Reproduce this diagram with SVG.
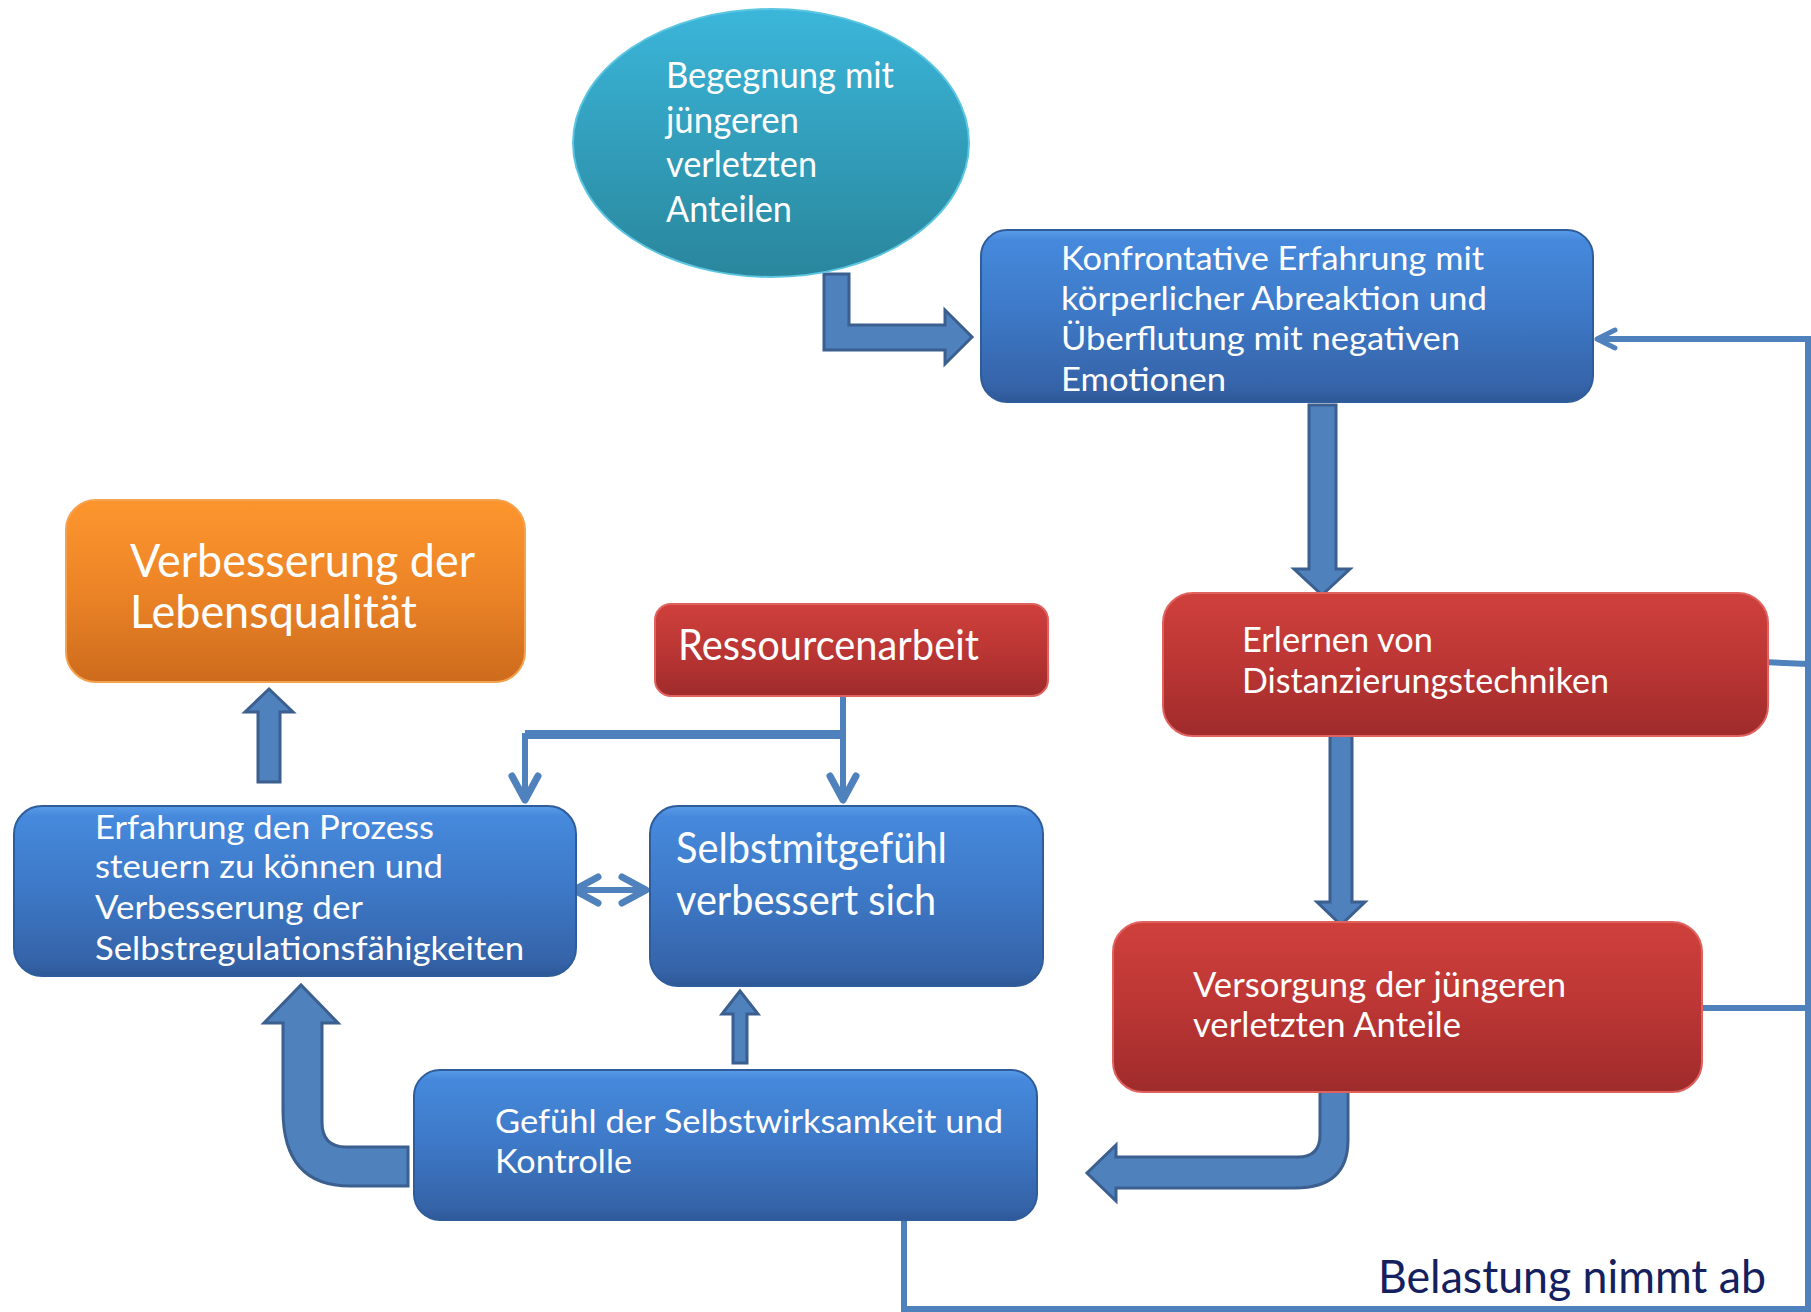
<svg xmlns="http://www.w3.org/2000/svg" width="1811" height="1312" viewBox="0 0 1811 1312">
<style>
.t{font-family:Lato,"Open Sans","Liberation Sans",sans-serif;fill:#ffffff;}
.box{stroke-width:2;}
.blue{fill:url(#gBlue);stroke:#2f5d9c;}
.red{fill:url(#gRed);stroke:#e0625e;}
.orange{fill:url(#gOrange);stroke:#f5a24e;}
.fat{fill:#4f81bd;stroke:#3b5f8f;stroke-width:3;stroke-linejoin:miter;}
.thin{fill:none;stroke:#4f81bd;stroke-width:6;}
</style>
<defs>
<linearGradient id="gBlue" x1="0" y1="0" x2="0" y2="1">
<stop offset="0" stop-color="#5a9ce8"/>
<stop offset="0.06" stop-color="#4689dc"/>
<stop offset="0.5" stop-color="#3d78c6"/>
<stop offset="0.92" stop-color="#3563a8"/>
<stop offset="1" stop-color="#2e5896"/>
</linearGradient>
<linearGradient id="gRed" x1="0" y1="0" x2="0" y2="1">
<stop offset="0" stop-color="#cf403c"/>
<stop offset="0.5" stop-color="#bb3634"/>
<stop offset="1" stop-color="#9f2b2b"/>
</linearGradient>
<linearGradient id="gOrange" x1="0" y1="0" x2="0" y2="1">
<stop offset="0" stop-color="#fd952e"/>
<stop offset="0.5" stop-color="#ec8427"/>
<stop offset="1" stop-color="#cd6b1d"/>
</linearGradient>
<linearGradient id="gCyan" x1="0" y1="0" x2="0" y2="1">
<stop offset="0" stop-color="#3bb6da"/>
<stop offset="1" stop-color="#29869c"/>
</linearGradient>
<marker id="arr" viewBox="-30 -20 36 40" refX="0" refY="0" markerWidth="36" markerHeight="40" markerUnits="userSpaceOnUse" orient="auto-start-reverse">
<path d="M -24 -13 L 0 0 L -24 13" fill="none" stroke="#4f81bd" stroke-width="7" stroke-linecap="round" stroke-linejoin="round"/>
</marker>
<marker id="arrS" viewBox="-30 -20 36 40" refX="0" refY="0" markerWidth="36" markerHeight="40" markerUnits="userSpaceOnUse" orient="auto-start-reverse">
<path d="M -18 -9 L 0 0 L -18 9" fill="none" stroke="#4f81bd" stroke-width="5" stroke-linecap="round" stroke-linejoin="round"/>
</marker>
</defs>

<g id="connectors">
<path class="thin" d="M 843 696 V 800" marker-end="url(#arr)"/>
<path class="thin" d="M 843 736 H 525 V 800" marker-end="url(#arr)"/>
<path class="thin" d="M 525 733 H 843" stroke-width="4"/>
<path class="thin" d="M 574 890 H 646" marker-start="url(#arr)" marker-end="url(#arr)"/>
<path class="thin" d="M 904 1220 V 1309 H 1808 V 339 H 1597" stroke-width="4" marker-end="url(#arrS)"/>
<path class="thin" d="M 1702 1008 H 1808" stroke-width="5"/>
<path class="thin" d="M 1762 662 L 1808 664" stroke-width="5"/>
<path class="fat" d="M 824 274 H 849 V 325 H 945 V 310 L 972 337 L 945 364 V 350 H 824 Z"/>
<path class="fat" d="M 1309 405 H 1336 V 569 H 1350 L 1322 595 L 1294 569 H 1309 Z"/>
<path class="fat" d="M 1330 734 H 1352 V 902 H 1365 L 1341 925 L 1317 902 H 1330 Z"/>
<path class="fat" d="M 1320 1090 H 1348 V 1140 Q 1348 1188 1295 1188 H 1116 V 1201 L 1087 1173 L 1116 1145 V 1157 H 1298 Q 1320 1157 1320 1135 Z"/>
<path class="fat" d="M 408 1147 H 346 Q 322 1147 322 1122 V 1023 H 338 L 301 985 L 264 1023 H 283 V 1110 Q 283 1186 350 1186 H 408 Z"/>
<path class="fat" d="M 733 1063 V 1014 H 722 L 740 991 L 758 1014 H 747 V 1063 Z"/>
<path class="fat" d="M 258 782 V 712 H 245 L 269 689 L 293 712 H 280 V 782 Z"/>
</g>

<g id="node-begegnung">
<ellipse cx="771" cy="143" rx="198" ry="134" fill="url(#gCyan)" stroke="#5cc6e2" stroke-width="2"/>
<text class="t" font-size="36" x="666" y="88" textLength="228" lengthAdjust="spacingAndGlyphs">Begegnung mit</text>
<text class="t" font-size="36" x="666" y="132.5" textLength="133" lengthAdjust="spacingAndGlyphs">jüngeren</text>
<text class="t" font-size="36" x="666" y="177" textLength="151" lengthAdjust="spacingAndGlyphs">verletzten</text>
<text class="t" font-size="36" x="666" y="221.5" textLength="126" lengthAdjust="spacingAndGlyphs">Anteilen</text>
</g>

<g id="node-konfrontative">
<rect class="box blue" x="981" y="230" width="612" height="172" rx="26"/>
<text class="t" font-size="33" x="1061" y="270" textLength="423" lengthAdjust="spacingAndGlyphs">Konfrontative Erfahrung mit</text>
<text class="t" font-size="33" x="1061" y="310" textLength="426" lengthAdjust="spacingAndGlyphs">körperlicher Abreaktion und</text>
<text class="t" font-size="33" x="1061" y="350" textLength="399" lengthAdjust="spacingAndGlyphs">Überflutung mit negativen</text>
<text class="t" font-size="33" x="1061" y="391" textLength="165" lengthAdjust="spacingAndGlyphs">Emotionen</text>
</g>

<g id="node-erlernen">
<rect class="box red" x="1163" y="593" width="605" height="143" rx="30"/>
<text class="t" font-size="34" x="1242" y="652" textLength="191" lengthAdjust="spacingAndGlyphs">Erlernen von</text>
<text class="t" font-size="34" x="1242" y="693" textLength="367" lengthAdjust="spacingAndGlyphs">Distanzierungstechniken</text>
</g>

<g id="node-versorgung">
<rect class="box red" x="1113" y="922" width="589" height="170" rx="30"/>
<text class="t" font-size="34" x="1193" y="997" textLength="373" lengthAdjust="spacingAndGlyphs">Versorgung der jüngeren</text>
<text class="t" font-size="34" x="1193" y="1037" textLength="268" lengthAdjust="spacingAndGlyphs">verletzten Anteile</text>
</g>

<g id="node-gefuehl">
<rect class="box blue" x="414" y="1070" width="623" height="150" rx="26"/>
<text class="t" font-size="33" x="495" y="1133" textLength="508" lengthAdjust="spacingAndGlyphs">Gefühl der Selbstwirksamkeit und</text>
<text class="t" font-size="33" x="495" y="1173" textLength="137" lengthAdjust="spacingAndGlyphs">Kontrolle</text>
</g>

<g id="node-erfahrung">
<rect class="box blue" x="14" y="806" width="562" height="170" rx="28"/>
<text class="t" font-size="33" x="95" y="839" textLength="339" lengthAdjust="spacingAndGlyphs">Erfahrung den Prozess</text>
<text class="t" font-size="33" x="95" y="878" textLength="348" lengthAdjust="spacingAndGlyphs">steuern zu können und</text>
<text class="t" font-size="33" x="95" y="919" textLength="268" lengthAdjust="spacingAndGlyphs">Verbesserung der</text>
<text class="t" font-size="33" x="95" y="960" textLength="429" lengthAdjust="spacingAndGlyphs">Selbstregulationsfähigkeiten</text>
</g>

<g id="node-selbstmitgefuehl">
<rect class="box blue" x="650" y="806" width="393" height="180" rx="28"/>
<text class="t" font-size="42" x="676" y="863" textLength="271" lengthAdjust="spacingAndGlyphs">Selbstmitgefühl</text>
<text class="t" font-size="42" x="676" y="915" textLength="260" lengthAdjust="spacingAndGlyphs">verbessert sich</text>
</g>

<g id="node-lebensqualitaet">
<rect class="box orange" x="66" y="500" width="459" height="182" rx="30"/>
<text class="t" font-size="46" x="130" y="577" textLength="345" lengthAdjust="spacingAndGlyphs">Verbesserung der</text>
<text class="t" font-size="46" x="130" y="628" textLength="287" lengthAdjust="spacingAndGlyphs">Lebensqualität</text>
</g>

<g id="node-ressourcenarbeit">
<rect class="box red" x="655" y="604" width="393" height="92" rx="16"/>
<text class="t" font-size="42" x="678" y="660" textLength="301" lengthAdjust="spacingAndGlyphs">Ressourcenarbeit</text>
</g>

<g id="label-belastung">
<text font-family="Lato,'Open Sans','Liberation Sans',sans-serif" font-size="46" fill="#14215e" x="1378" y="1293" textLength="388" lengthAdjust="spacingAndGlyphs">Belastung nimmt ab</text>
</g>
</svg>
